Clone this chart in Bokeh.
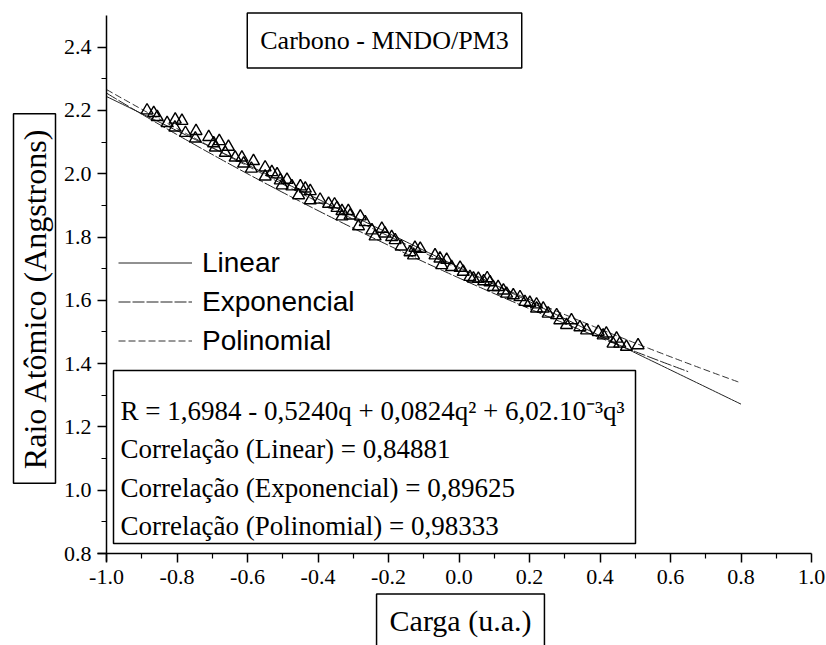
import numpy as np
from bokeh.plotting import figure
from bokeh.models import (Range1d, FixedTicker, PrintfTickFormatter, Label,
                          Legend, LegendItem, BoxAnnotation, LinearAxis)
from bokeh.embed import file_html
from bokeh.resources import INLINE

# ---- data ----
carga = [-0.885, -0.866, -0.856, -0.828, -0.805, -0.786, -0.806, -0.776, -0.746, -0.748,
         -0.710, -0.696, -0.680, -0.691, -0.654, -0.663, -0.635, -0.616, -0.611, -0.583,
         -0.589, -0.550, -0.550, -0.531, -0.516, -0.507, -0.488, -0.502, -0.474,
         -0.450, -0.436, -0.422, -0.455, -0.422, -0.394, -0.370, -0.353, -0.346, -0.332,
         -0.314, -0.309, -0.332, -0.280, -0.285, -0.266, -0.247, -0.238, -0.219, -0.210,
         -0.191, -0.181, -0.164, -0.139, -0.125, -0.110, -0.129, -0.068, -0.054, -0.035,
         -0.049, -0.021, 0.003,
         0.012, 0.031, 0.041, 0.055, 0.070, 0.080, 0.088, 0.097, 0.111, 0.126, 0.135,
         0.154, 0.173, 0.187, 0.201, 0.220, 0.220, 0.239, 0.253, 0.277, 0.286, 0.319,
         0.305, 0.343, 0.362, 0.395, 0.409, 0.418, 0.447, 0.437, 0.456, 0.475, 0.508]
raio = [2.200, 2.192, 2.179, 2.160, 2.171, 2.167, 2.146, 2.129, 2.135, 2.111,
        2.116, 2.096, 2.103, 2.083, 2.085, 2.066, 2.051, 2.051, 2.032, 2.040,
        2.016, 2.020, 1.991, 2.005, 1.998, 1.979, 1.981, 1.963, 1.960,
        1.960, 1.953, 1.945, 1.932, 1.916, 1.918, 1.905, 1.903, 1.892, 1.882,
        1.882, 1.868, 1.865, 1.865, 1.834, 1.847, 1.821, 1.802, 1.826, 1.811,
        1.800, 1.790, 1.770, 1.752, 1.766, 1.763, 1.742, 1.742, 1.732, 1.728,
        1.711, 1.705, 1.703,
        1.690, 1.674, 1.669, 1.668, 1.660, 1.670, 1.657, 1.642, 1.642, 1.631, 1.621,
        1.616, 1.610, 1.595, 1.592, 1.587, 1.574, 1.574, 1.558, 1.553, 1.537, 1.537,
        1.522, 1.515, 1.505, 1.500, 1.489, 1.495, 1.479, 1.463, 1.463, 1.453, 1.458]

# fitted curves (coefficients estimated from the drawn lines)
linear_coef = [1.704, -0.540]            # R = a + b q
exp_coef = [1.6706, -0.2999]             # R = A exp(B q)
poly_coef = [1.700, -0.5022, 0.0638]     # R = a + b q + c q^2
linear_span = [-1.0, 0.8]
exp_span = [-1.0, 0.65]
poly_span = [-1.0, 0.8]

x_ticks = [-1.0, -0.8, -0.6, -0.4, -0.2, 0.0, 0.2, 0.4, 0.6, 0.8, 1.0]
y_ticks = [0.8, 1.0, 1.2, 1.4, 1.6, 1.8, 2.0, 2.2, 2.4]
x_bounds = (-1.0, 1.0)
y_bounds = (0.8, 2.5)

legend_labels = ["Linear", "Exponencial", "Polinomial"]
title_text = "Carbono - MNDO/PM3"
x_title = "Carga (u.a.)"
y_title = "Raio Atômico (Angstrons)"
info_lines = ["R = 1,6984 - 0,5240q + 0,0824q² + 6,02.10⁻³q³",
              "Correlação (Linear) = 0,84881",
              "Correlação (Exponencial) = 0,89625",
              "Correlação (Polinomial) = 0,98333"]

W, H = 826, 645
# pixel placement of the axes box inside the canvas
AX_L, AX_R, AX_T, AX_B = 106, 811, 15, 553
sx = (AX_R - AX_L) / (x_bounds[1] - x_bounds[0])
sy = (AX_B - AX_T) / (y_bounds[1] - y_bounds[0])
xr = Range1d(x_bounds[0] - AX_L / sx, x_bounds[1] + (W - AX_R) / sx)
yr = Range1d(y_bounds[0] - (H - AX_B) / sy, y_bounds[1] + AX_T / sy)

p = figure(width=W, height=H, output_backend="svg", toolbar_location=None,
           x_range=xr, y_range=yr, x_axis_type=None, y_axis_type=None,
           min_border=0)
p.outline_line_color = None
p.background_fill_color = "white"
p.border_fill_color = "white"

x_minor = list(np.round(np.array(x_ticks[:-1]) + 0.1, 2))
y_minor = list(np.round(np.arange(y_ticks[0], 2.5, 0.1), 2))
xaxis = LinearAxis(fixed_location=y_bounds[0],
                   bounds=(x_bounds[0] - 0.025, x_bounds[1]),
                   ticker=FixedTicker(ticks=x_ticks, minor_ticks=x_minor))
yaxis = LinearAxis(fixed_location=x_bounds[0],
                   bounds=(y_bounds[0] - 0.025, y_bounds[1]),
                   ticker=FixedTicker(ticks=y_ticks, minor_ticks=y_minor))
for ax in (xaxis, yaxis):
    ax.formatter = PrintfTickFormatter(format="%.1f")
    ax.major_label_text_font = "Liberation Serif"
    ax.major_label_text_font_size = "22px"
    ax.major_label_text_color = "black"
    ax.axis_line_color = "black"
    ax.axis_line_width = 1.5
    ax.major_tick_line_color = "black"
    ax.major_tick_line_width = 1.5
    ax.minor_tick_line_color = "black"
    ax.minor_tick_line_width = 1.2
    ax.major_tick_out = 9
    ax.major_tick_in = 0
    ax.minor_tick_out = 5
    ax.minor_tick_in = 0
xaxis.major_label_standoff = 7
yaxis.major_label_standoff = 6
p.add_layout(xaxis, "below")
p.add_layout(yaxis, "left")

# fit lines
q1 = np.linspace(linear_span[0], linear_span[1], 200)
r_lin = p.line(q1, linear_coef[0] + linear_coef[1] * q1,
               line_color="#222222", line_width=1)
q2 = np.linspace(exp_span[0], exp_span[1], 200)
r_exp = p.line(q2, exp_coef[0] * np.exp(exp_coef[1] * q2),
               line_color="#222222", line_width=1, line_dash="12 2")
q3 = np.linspace(poly_span[0], poly_span[1], 200)
r_pol = p.line(q3, poly_coef[0] + poly_coef[1] * q3 + poly_coef[2] * q3 ** 2,
               line_color="#333333", line_width=1, line_dash="7 3")

# data points
p.scatter(carga, raio, marker="triangle", size=12, fill_color=None,
          line_color="black", line_width=1.4)

legend = Legend(items=[LegendItem(label=legend_labels[0], renderers=[r_lin]),
                       LegendItem(label=legend_labels[1], renderers=[r_exp]),
                       LegendItem(label=legend_labels[2], renderers=[r_pol])],
                location=(118, 286), label_text_font="Liberation Sans",
                label_text_font_size="28px", label_text_color="black",
                glyph_width=74, glyph_height=37, label_height=37, spacing=2,
                padding=0, margin=0, label_standoff=10,
                border_line_color=None, background_fill_alpha=0)
p.add_layout(legend)

# title box
p.add_layout(Label(x=384, y=H - 40, x_units="screen", y_units="screen",
                   text=title_text, text_font="Liberation Serif",
                   text_font_size="26px", text_color="black",
                   text_align="center", text_baseline="middle",
                   border_line_color="black", border_line_width=1.5,
                   background_fill_color="white", padding=13))

# y axis title box
p.add_layout(Label(x=34, y=H - 298, x_units="screen", y_units="screen",
                   text=y_title, text_font="Liberation Serif",
                   text_font_size="32px", text_color="black",
                   angle=90, angle_units="deg",
                   text_align="center", text_baseline="middle",
                   border_line_color="black", border_line_width=1.5,
                   background_fill_color="white",
                   padding=dict(left=14, right=14, top=3, bottom=3)))

# x axis title box
p.add_layout(Label(x=460, y=H - 630, x_units="screen", y_units="screen",
                   text=x_title, text_font="Liberation Serif",
                   text_font_size="30px", text_color="black",
                   text_align="center", text_baseline="middle",
                   border_line_color="black", border_line_width=1.5,
                   background_fill_color="white",
                   padding=dict(left=13, right=13, top=10, bottom=30)))

# info box
p.add_layout(BoxAnnotation(left=113, right=635, top=H - 370, bottom=H - 543,
                           left_units="screen", right_units="screen",
                           top_units="screen", bottom_units="screen",
                           fill_alpha=0, line_color="black", line_alpha=1,
                           line_width=1.5))
for i, t in enumerate(info_lines):
    p.add_layout(Label(x=120, y=H - 410 - i * 38.5, x_units="screen", y_units="screen",
                       text=t, text_font="Liberation Serif", text_font_size="27px",
                       text_color="black", text_align="left",
                       text_baseline="alphabetic"))

open("out.html", "w").write(file_html(p, INLINE))
